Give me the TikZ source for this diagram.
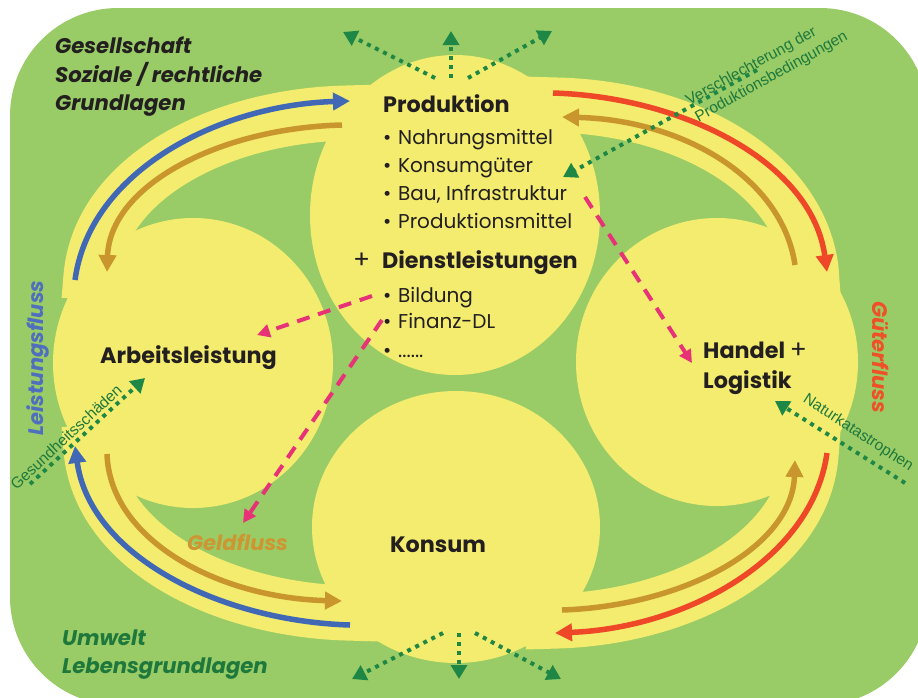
\documentclass[tikz,border=0pt]{standalone}
\usepackage{fontspec}
\setmainfont{Poppins}
\newfontfamily\smallf{Liberation Sans}
\usetikzlibrary{arrows.meta}
\definecolor{bg}{RGB}{153,204,102}
\definecolor{yl}{RGB}{243,236,110}
\definecolor{fblue}{RGB}{64,104,180}
\definecolor{fbrown}{RGB}{200,150,45}
\definecolor{fred}{RGB}{238,72,40}
\definecolor{fpink}{RGB}{232,50,120}
\definecolor{dgreen}{RGB}{30,135,70}
\definecolor{tgreen}{RGB}{30,120,60}
\definecolor{txt}{RGB}{35,31,32}
\definecolor{lblue}{RGB}{80,110,190}
\definecolor{lred}{RGB}{240,80,40}
\definecolor{lgold}{RGB}{205,150,50}
\newcommand{\bigplus}{{\fontsize{25}{25}\selectfont +}}
\tikzset{
  band/.style={draw=yl, line width=55pt},
  circ/.style={fill=yl},
  flow/.style={line width=5.5pt, -{Triangle[length=17pt,width=17pt]}},
  money/.style={draw=fpink, line width=4pt, dash pattern=on 13pt off 9pt, -{Triangle[length=13pt,width=13pt]}},
  eco/.style={draw=dgreen, line width=4pt, dash pattern=on 4pt off 5pt, -{Triangle[length=14pt,width=16pt]}},
  main/.style={inner sep=0pt, anchor=base west, text=txt, font=\fontsize{20}{20}\selectfont},
  head/.style={main, font=\fontsize{22.3}{22}\selectfont\bfseries},
  corner/.style={inner sep=0pt, anchor=base west, font=\fontsize{21.2}{21}\selectfont\bfseries\itshape},
  side/.style={inner sep=0pt, anchor=center, font=\fontsize{21}{21}\selectfont\bfseries\itshape},
  note/.style={inner sep=0pt, anchor=center, text=tgreen, font=\fontsize{15.5}{19}\selectfont\smallf},
}
\begin{document}
\begin{tikzpicture}[x=1pt,y=-1pt]
\useasboundingbox (0,0) rectangle (918,697);
\fill[bg, rounded corners=108pt] (10,8) rectangle (928,705);
% bands
\draw[band] (89,300) -- (91,276) .. controls (100,177) and (220,116) .. (346,113) -- (380,112);
\draw[band] (522,104) -- (557,105) .. controls (682,108) and (797,169) .. (811,268) -- (813,295);
\draw[band] (380,614) -- (346,613) .. controls (220,609) and (100,548) .. (91,450) -- (89,425);
\draw[band] (813,430) -- (811,456) .. controls (802,554) and (683,617) .. (558,621) -- (525,622);
% circles
\fill[circ] (455,215) ellipse [x radius=145, y radius=160];
\fill[circ] (193,363) ellipse [x radius=140, y radius=145];
\fill[circ] (717,362) ellipse [x radius=141, y radius=144];
\fill[circ] (456,527) ellipse [x radius=144, y radius=136];
% coordinates
\coordinate (b1s) at (75,280); \coordinate (b1e) at (350,101);
\coordinate (g1s) at (342,125); \coordinate (g1e) at (107,272);
\coordinate (r1s) at (553,93); \coordinate (r1e) at (827,272);
\coordinate (g2s) at (795,265); \coordinate (g2e) at (562,117);
\coordinate (b2s) at (350,625); \coordinate (b2e) at (75,446);
\coordinate (g3s) at (107,454); \coordinate (g3e) at (342,601);
\coordinate (r2s) at (827,453); \coordinate (r2e) at (555,633);
\coordinate (g4s) at (562,610); \coordinate (g4e) at (795,460);
\draw[flow, fblue] (b1s) .. controls (90,170) and (220,105) .. (b1e);
\draw[flow, fbrown] (g1s) .. controls (220,128) and (110,185) .. (g1e);
\draw[flow, fred] (r1s) .. controls (683,97) and (812,162) .. (r1e);
\draw[flow, fbrown] (g2s) .. controls (782,177) and (682,120) .. (g2e);
\draw[flow, fblue] (b2s) .. controls (220,621) and (90,556) .. (b2e);
\draw[flow, fbrown] (g3s) .. controls (110,541) and (220,598) .. (g3e);
\draw[flow, fred] (r2s) .. controls (812,560) and (685,628) .. (r2e);
\draw[flow, fbrown] (g4s) .. controls (682,606) and (792,548) .. (g4e);
% text
\node[head] (prod) at (383,112) {Produktion};
\node[main] (p1) at (383,144) {\makebox[15pt][l]{•}Nahrungsmittel};
\node[main] (p2) at (383,172) {\makebox[15pt][l]{•}Konsumgüter};
\node[main] (p3) at (383,200) {\makebox[15pt][l]{•}Bau, Infrastruktur};
\node[main] (p4) at (383,228) {\makebox[15pt][l]{•}Produktionsmittel};
\node[main] (dl) at (353,268) {\makebox[29pt][l]{\bigplus}\textbf{\fontsize{22.3}{22}\selectfont Dienstleistungen}};
\node[main] (d1) at (383,302) {\makebox[15pt][l]{•}Bildung};
\node[main] (d2) at (383,328) {\makebox[15pt][l]{•}Finanz-DL};
\node[main] (d3) at (383,357) {\makebox[15pt][l]{•}......};
\node[head] (arb) at (100,363) {Arbeitsleistung};
\node[head] (han) at (703,358) {Handel \mdseries\bigplus};
\node[head] (log) at (703,388) {Logistik};
\node[head] (kon) at (390,552) {Konsum};
\node[corner, text=txt] (g1) at (55,53) {Gesellschaft};
\node[corner, text=txt] (g2) at (55,82) {Soziale / rechtliche};
\node[corner, text=txt] (g3) at (55,110) {Grundlagen};
\node[corner, text=tgreen] (u1) at (62,645) {Umwelt};
\node[corner, text=tgreen] (u2) at (62,673) {Lebensgrundlagen};
\node[side, text=lblue, rotate=90] (lf) at (38,358) {Leistungsfluss};
\node[side, text=lred, rotate=-90] (gf) at (881,357) {Güterfluss};
\node[side, text=lgold, anchor=base west] (gel) at (187,550) {Geldfluss};
\node[note, rotate=29, align=left] (vs) at (767,69) {Verschlechterung der\\Produktionsbedingungen};
\node[note, rotate=43] (gs) at (66,437) {Gesundheitsschäden};
\node[note, rotate=-33] (nk) at (858,433) {Naturkatastrophen};
% money flows
\coordinate (m1s) at (585,197); \coordinate (m1e) at (692,363);
\coordinate (m2s) at (372,296); \coordinate (m2e) at (257,335);
\coordinate (m3s) at (382,320); \coordinate (m3e) at (243,523);
\draw[money] (m1s) -- (m1e);
\draw[money] (m2s) -- (m2e);
\draw[money] (m3s) -- (m3e);
% eco arrows
\coordinate (t0) at (451,78);
\draw[eco] (435,78) -- (343,32);
\draw[eco] (t0) -- (451,31);
\draw[eco] (468,78) -- (552,31);
\draw[eco] (443,633) -- (352,679);
\draw[eco] (459,633) -- (459,679);
\draw[eco] (475,633) -- (561,679);
\draw[eco] (757,70) -- (563,177);
\draw[eco] (30,484) -- (145,378);
\draw[eco] (905,483) -- (775,401);
\end{tikzpicture}
\end{document}
